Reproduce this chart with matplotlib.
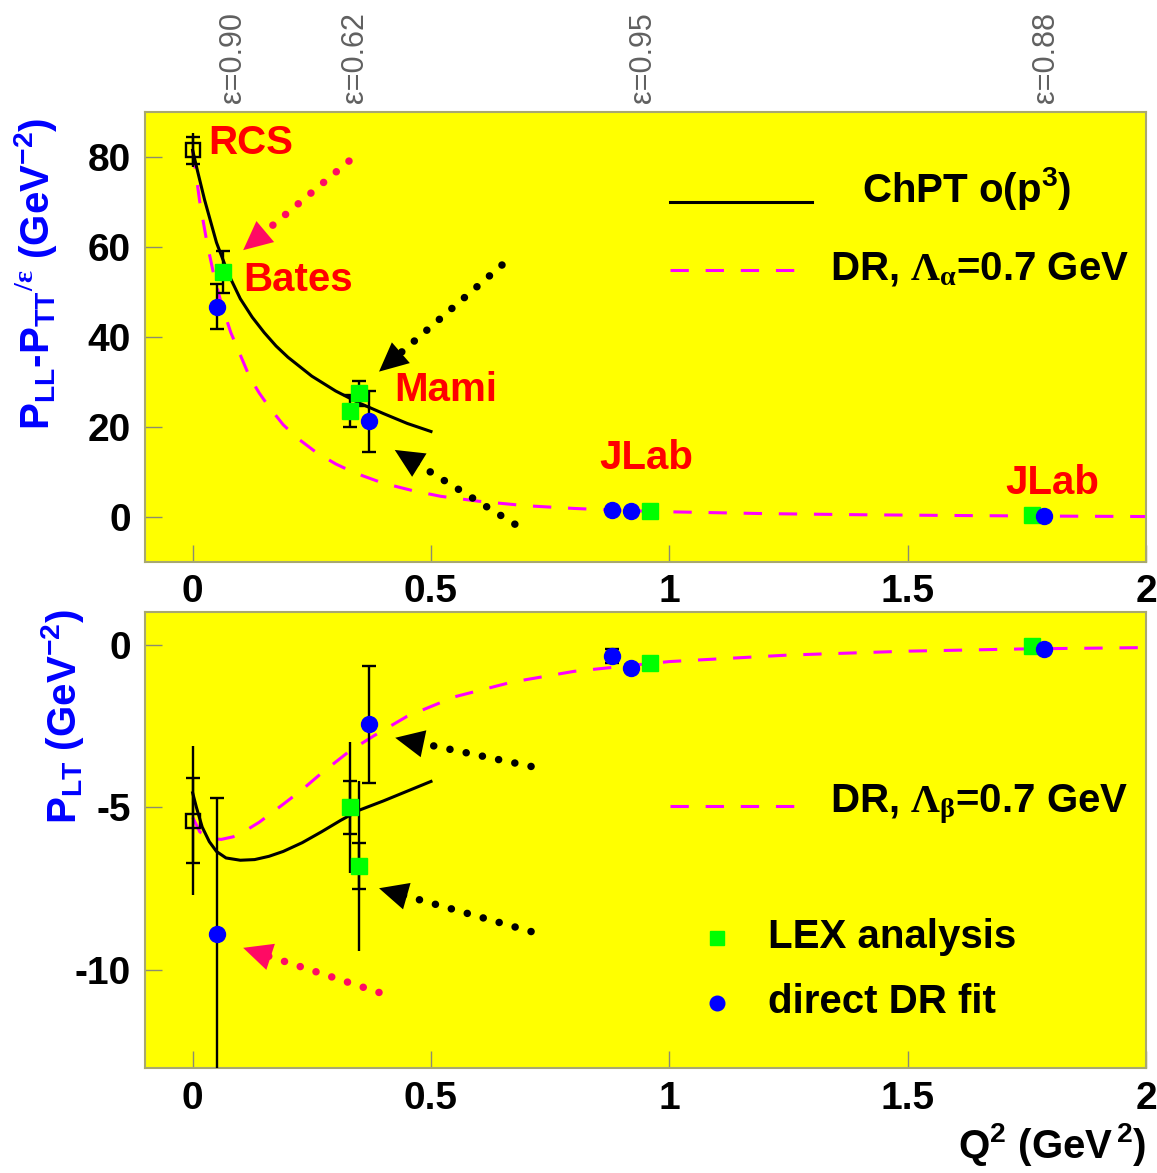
import matplotlib
matplotlib.use("Agg")
import matplotlib.pyplot as plt

# ---- measurements -------------------------------------------------------
# top panel: P_LL - P_TT/eps
rcs_top = (0.0, 81.5)
rcs_top_err = (3.0, 3.8)
lex_q2_top = [0.063, 0.33, 0.35, 0.96, 1.76]
lex_val_top = [54.5, 23.5, 27.5, 1.3, 0.5]
lex_err_top = [4.7, 3.5, 2.8, 0.3, 0.3]
dr_q2_top = [0.052, 0.37, 0.88, 0.92, 1.785]
dr_val_top = [46.7, 21.3, 1.5, 1.3, 0.2]
dr_err_top = [5.0, 6.8, 0.3, 0.3, 0.3]

# bottom panel: P_LT
rcs_bot = (0.0, -5.4)
rcs_bot_err = (1.3, 2.3)
lex_q2_bot = [0.33, 0.35, 0.96, 1.76]
lex_val_bot = [-5.0, -6.8, -0.55, -0.05]
lex_err_bot = [0.8, 0.7, 0.15, 0.15]
lex_tot_bot = [2.0, 2.6, 0.15, 0.15]
dr_q2_bot = [0.052, 0.37, 0.88, 0.92, 1.785]
dr_val_bot = [-8.9, -2.45, -0.35, -0.72, -0.12]
dr_err_bot = [4.2, 1.8, 0.22, 0.1, 0.1]

# ---- model curves -------------------------------------------------------
chpt_q2_top = [0.0, 0.01, 0.025, 0.05, 0.075, 0.1, 0.125, 0.15, 0.175, 0.2, 0.25, 0.3,
               0.35, 0.4, 0.45, 0.5]
chpt_top = [81.5, 77.0, 70.5, 61.0, 54.0, 48.5, 44.4, 41.0, 38.0, 35.5, 31.3, 28.0,
            25.3, 23.0, 20.8, 19.0]
drc_q2_top = [0.0, 0.015, 0.03, 0.045, 0.06, 0.08, 0.1, 0.12, 0.14, 0.16, 0.19, 0.22, 0.26,
              0.3, 0.34, 0.4, 0.46, 0.52, 0.6, 0.7, 0.8, 0.9, 1.0, 1.2, 1.4, 1.6, 1.8, 2.0]
drc_top = [81.5, 70.0, 61.0, 53.5, 47.5, 41.0, 36.0, 31.0, 27.5, 24.5, 20.5, 17.5, 14.3,
           11.8, 9.8, 7.5, 5.9, 4.6, 3.5, 2.5, 1.9, 1.45, 1.15, 0.75, 0.5, 0.33, 0.2, 0.1]

chpt_q2_bot = [0.0, 0.008, 0.02, 0.035, 0.05, 0.07, 0.1, 0.13, 0.16, 0.19, 0.23, 0.27,
               0.31, 0.35, 0.4, 0.45, 0.5]
chpt_bot = [-4.55, -5.0, -5.6, -6.05, -6.35, -6.55, -6.62, -6.6, -6.5, -6.35, -6.08, -5.75,
            -5.4, -5.08, -4.8, -4.5, -4.2]
drc_q2_bot = [0.0, 0.015, 0.035, 0.06, 0.085, 0.11, 0.14, 0.19, 0.23, 0.27, 0.33, 0.38,
              0.45, 0.55, 0.67, 0.8, 1.0, 1.25, 1.5, 1.75, 2.0]
drc_bot = [-5.3, -5.75, -5.95, -5.98, -5.9, -5.72, -5.45, -4.9, -4.45, -3.95, -3.26, -2.8,
           -2.2, -1.6, -1.15, -0.82, -0.52, -0.32, -0.2, -0.13, -0.09]

# epsilon of each kinematic setting
eps_q2 = [0.084, 0.34, 0.945, 1.79]
eps_labels = ["0.90", "0.62", "0.95", "0.88"]

xticks = [0, 0.5, 1, 1.5, 2]
xticklabels = ["0", "0.5", "1", "1.5", "2"]
yticks_top = [0, 20, 40, 60, 80]
yticks_bot = [-10, -5, 0]

YELLOW = "#ffff00"
MAGENTA = "#ff00ff"
PINK = "#ff0a64"
GREEN = "#00ff00"
BLUE = "#0000ff"
FRAME = "#a8a870"

plt.rcParams.update({
    "font.family": ["Liberation Sans", "DejaVu Sans"],
    "font.weight": "bold",
    "mathtext.fontset": "custom",
    "mathtext.rm": "Liberation Serif",
    "mathtext.it": "Liberation Sans:italic",
    "mathtext.bf": "Liberation Sans:bold",
    "mathtext.sf": "Liberation Sans",
    "mathtext.default": "regular",
})


def style_axes(ax, yticks):
    ax.set_facecolor(YELLOW)
    for sp in ax.spines.values():
        sp.set_color(FRAME)
        sp.set_linewidth(1.5)
    ax.set_xlim(-0.1, 2.0)
    ax.set_xticks(xticks)
    ax.set_xticklabels(xticklabels)
    ax.set_yticks(yticks)
    ax.set_yticklabels([str(v) for v in yticks])
    ax.tick_params(direction="in", length=12, width=1, color="#8c8c70",
                   labelsize=28, top=False, right=False)
    ax.tick_params(axis="x", pad=9)
    ax.tick_params(axis="y", pad=10)


def draw_points(ax, x, y, err, tot, marker, color, ms, open_marker=False):
    if tot is not None:
        ax.errorbar(x, y, yerr=tot, fmt="none", ecolor="black", elinewidth=1.7,
                    capsize=0, zorder=4)
    ax.errorbar(x, y, yerr=err, fmt="none", ecolor="black", elinewidth=1.7,
                capsize=5, capthick=1.7, zorder=4)
    if open_marker:
        ax.plot(x, y, ls="none", marker=marker, ms=ms, mfc="none", mec="black",
                mew=1.7, zorder=5)
    else:
        ax.plot(x, y, ls="none", marker=marker, ms=ms, mfc=color, mec=color, zorder=5)


def dotted_arrow(ax, start, end, color):
    (x0, y0), (x1, y1) = start, end
    xs = x1 + 0.14 * (x0 - x1)
    ys = y1 + 0.14 * (y0 - y1)
    ax.plot([x0, xs], [y0, ys], color=color, lw=5.4, ls=(0, (0.01, 2.2)),
            dash_capstyle="round", zorder=3)
    ax.annotate("", xy=end, xytext=start,
                arrowprops=dict(arrowstyle="-|>,head_length=0.8,head_width=0.38",
                                color=color, lw=0, mutation_scale=26,
                                shrinkA=0, shrinkB=0), zorder=3)


fig = plt.figure(figsize=(11.57, 11.73), dpi=100)
ax1 = fig.add_axes([0.1253, 0.5209, 0.8652, 0.3836])
ax2 = fig.add_axes([0.1253, 0.0895, 0.8652, 0.3887])

# ---- top panel ----------------------------------------------------------
style_axes(ax1, yticks_top)
ax1.set_ylim(-10, 90)
ax1.plot(drc_q2_top, drc_top, color=MAGENTA, lw=2.2, ls=(0, (6, 5.5)), zorder=2)
ax1.plot(chpt_q2_top, chpt_top, color="black", lw=2.2, zorder=2)
draw_points(ax1, [rcs_top[0]], [rcs_top[1]], [rcs_top_err[0]], [rcs_top_err[1]],
            "s", "black", 10, open_marker=True)
draw_points(ax1, lex_q2_top, lex_val_top, lex_err_top, None, "s", GREEN, 11)
draw_points(ax1, dr_q2_top, dr_val_top, dr_err_top, None, "o", BLUE, 11.5)

dotted_arrow(ax1, (0.328, 79.1), (0.106, 59.3), PINK)
dotted_arrow(ax1, (0.649, 56.0), (0.391, 32.3), "black")
dotted_arrow(ax1, (0.676, -1.6), (0.424, 14.9), "black")

red = dict(color="#ff0000", fontsize=29, fontweight="bold", va="center", ha="left",
           transform=ax1.transAxes)
ax1.text(0.063, 0.931, "RCS", **red)
ax1.text(0.098, 0.627, "Bates", **red)
ax1.text(0.249, 0.382, "Mami", **red)
ax1.text(0.454, 0.231, "JLab", **red)
ax1.text(0.859, 0.176, "JLab", **red)

leg = dict(fontsize=29, fontweight="bold", va="center", ha="left", transform=ax1.transAxes)
ax1.plot([0.524, 0.666], [0.80, 0.80], color="black", lw=2.2, transform=ax1.transAxes)
ax1.text(0.716, 0.83, r"ChPT o(p$^{3}$)", **leg)
ax1.plot([0.524, 0.654], [0.649, 0.649], color=MAGENTA, lw=2.2, ls=(0, (6, 5.5)),
         transform=ax1.transAxes)
ax1.text(0.684, 0.652, r"DR, $\mathrm{\Lambda_{\alpha}}$=0.7 GeV", **leg)

for q, lab in zip(eps_q2, eps_labels):
    ax1.text(q, 1.02, "ε=" + lab, rotation=90, ha="center", va="bottom",
             fontsize=22, fontweight="normal", color="#606060",
             transform=ax1.get_xaxis_transform())

# ---- bottom panel -------------------------------------------------------
style_axes(ax2, yticks_bot)
ax2.set_ylim(-13, 1)
ax2.plot(drc_q2_bot, drc_bot, color=MAGENTA, lw=2.2, ls=(0, (6, 5.5)), zorder=2)
ax2.plot(chpt_q2_bot, chpt_bot, color="black", lw=2.2, zorder=2)
draw_points(ax2, [rcs_bot[0]], [rcs_bot[1]], [rcs_bot_err[0]], [rcs_bot_err[1]],
            "s", "black", 10, open_marker=True)
draw_points(ax2, lex_q2_bot, lex_val_bot, lex_err_bot, lex_tot_bot, "s", GREEN, 11)
draw_points(ax2, dr_q2_bot, dr_val_bot, dr_err_bot, None, "o", BLUE, 11.5)

dotted_arrow(ax2, (0.71, -3.74), (0.425, -2.86), "black")
dotted_arrow(ax2, (0.71, -8.81), (0.391, -7.48), "black")
dotted_arrow(ax2, (0.391, -10.68), (0.106, -9.31), PINK)

leg2 = dict(fontsize=29, fontweight="bold", va="center", ha="left", transform=ax2.transAxes)
ax2.plot([0.524, 0.654], [0.5746, 0.5746], color=MAGENTA, lw=2.2, ls=(0, (6, 5.5)),
         transform=ax2.transAxes)
ax2.text(0.684, 0.578, r"DR, $\mathrm{\Lambda_{\beta}}$=0.7 GeV", **leg2)
ax2.plot([0.5714], [0.285], ls="none", marker="s", ms=10, color=GREEN,
         transform=ax2.transAxes)
ax2.text(0.622, 0.287, "LEX analysis", **leg2)
ax2.plot([0.5714], [0.1425], ls="none", marker="o", ms=10.5, color=BLUE,
         transform=ax2.transAxes)
ax2.text(0.622, 0.1445, "direct DR fit", **leg2)

# ---- axis titles --------------------------------------------------------
fig.text(0.031, 0.7664,
         r"$P_{LL}$-$P_{TT}$$^{\mathrm{/\varepsilon}}$ (GeV$^{-2}$)",
         rotation=90, ha="center", va="center", fontsize=29, color=BLUE)
fig.text(0.0536, 0.389, r"$P_{LT}$ (GeV$^{-2}$)", rotation=90, ha="center",
         va="center", fontsize=29, color=BLUE)
fig.text(0.9905, 0.024, r"Q$^{2}$ (GeV$^{\,2}$)", ha="right", va="center", fontsize=29)

fig.savefig("out.png", dpi=100, facecolor="white")
